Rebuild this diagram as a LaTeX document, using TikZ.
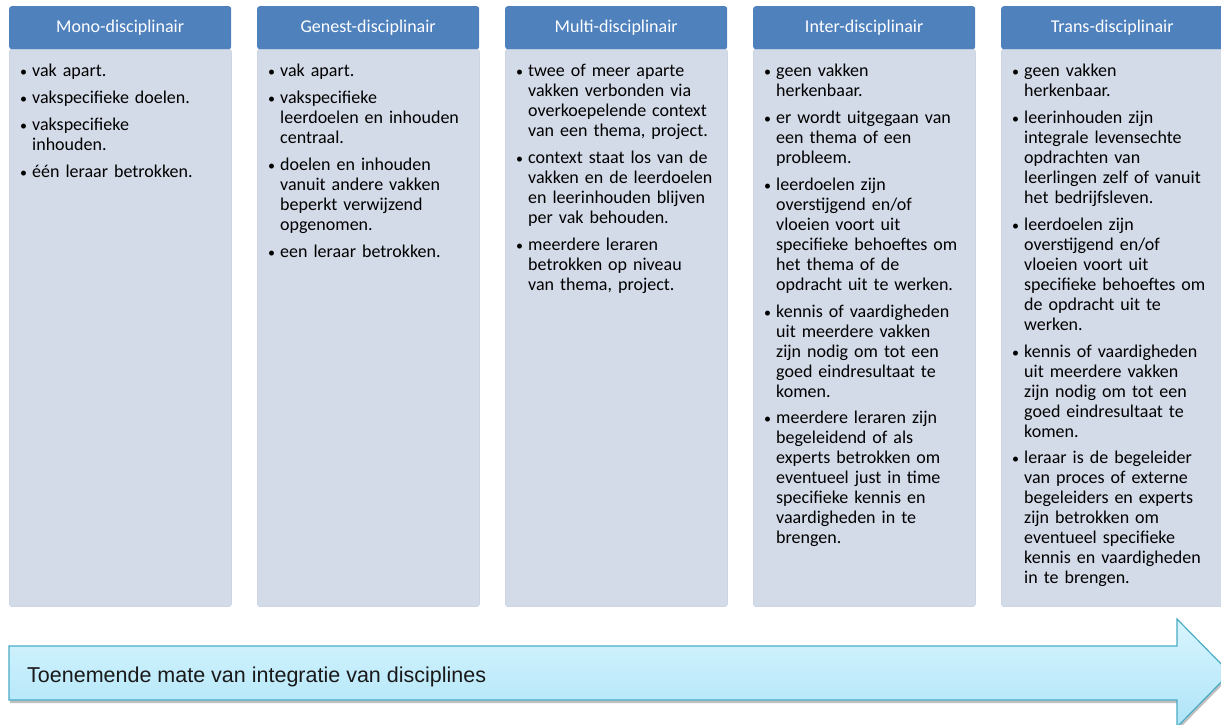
\documentclass[tikz,border=0pt]{standalone}
\usepackage{fontspec}
\setmainfont{Carlito}
\newfontfamily\arialf{Liberation Sans}
\usetikzlibrary{shadows}
\definecolor{hdr}{HTML}{4F81BD}
\definecolor{bodyc}{HTML}{D3DAE8}
\definecolor{bodyedge}{HTML}{CDD4E4}
\definecolor{arrtop}{HTML}{D8F5FE}
\definecolor{arrbot}{HTML}{AEE4F8}
\definecolor{arredge}{HTML}{4BACC6}
\newcommand{\bitem}[1]{\par\noindent\makebox[12pt][l]{\fontsize{14}{14}\selectfont\textbullet}\parbox[t]{192pt}{\raggedright\strut#1\strut}\par}
\newcommand{\mkcol}[4]{%
  \node[bodybox, anchor=north west] (b#1) at (#2,49) {};
  \node[hdrbox, anchor=north west] (h#1) at (#2,6) {#3};
  \node[txtbox, anchor=north west] (t#1) at (#2+11,50) {#4};
}
\begin{document}
\begin{tikzpicture}[x=1pt,y=-1pt,
  hdrbox/.style={fill=hdr, draw=none, rounded corners=2.5pt, minimum width=222pt, minimum height=43pt,
    inner sep=0pt, text=white, font=\fontsize{18}{20}\selectfont},
  bodybox/.style={fill=bodyc, draw=bodyedge, line width=0.8pt, rounded corners=2.5pt, minimum width=222pt, minimum height=557pt, inner sep=0pt},
  txtbox/.style={inner sep=0pt, text width=205pt, align=left, text=black,
    font=\fontsize{18}{20}\selectfont\setlength{\parskip}{6.7pt}\setlength{\lineskip}{0pt}},
  arrowshape/.style={top color=arrtop, bottom color=arrbot, draw=arredge, line width=1.2pt,
    drop shadow={shadow xshift=1pt, shadow yshift=-3pt, opacity=0.25, fill=black}},
]
\clip (0,0) rectangle (1221,724);
\fill[white] (0,0) rectangle (1221,724);
\useasboundingbox (0,0) rectangle (1221,724);

\mkcol{1}{9}{Mono-disciplinair}{%
\bitem{vak apart.}
\bitem{vakspecifieke doelen.}
\bitem{vakspecifieke\\inhouden.}
\bitem{één leraar betrokken.}}

\mkcol{2}{257}{Genest-disciplinair}{%
\bitem{vak apart.}
\bitem{vakspecifieke\\leerdoelen en inhouden\\centraal.}
\bitem{doelen en inhouden\\vanuit andere vakken\\beperkt verwijzend\\opgenomen.}
\bitem{een leraar betrokken.}}

\mkcol{3}{505}{Multi-disciplinair}{%
\bitem{twee of meer aparte\\vakken verbonden via\\overkoepelende context\\van een thema, project.}
\bitem{context staat los van de\\vakken en de leerdoelen\\en leerinhouden blijven\\per vak behouden.}
\bitem{meerdere leraren\\betrokken op niveau\\van thema, project.}}

\mkcol{4}{753}{Inter-disciplinair}{%
\bitem{geen vakken\\herkenbaar.}
\bitem{er wordt uitgegaan van\\een thema of een\\probleem.}
\bitem{leerdoelen zijn\\overstijgend en/of\\vloeien voort uit\\specifieke behoeftes om\\het thema of de\\opdracht uit te werken.}
\bitem{kennis of vaardigheden\\uit meerdere vakken\\zijn nodig om tot een\\goed eindresultaat te\\komen.}
\bitem{meerdere leraren zijn\\begeleidend of als\\experts betrokken om\\eventueel just in time\\specifieke kennis en\\vaardigheden in te\\brengen.}}

\mkcol{5}{1001}{Trans-disciplinair}{%
\bitem{geen vakken\\herkenbaar.}
\bitem{leerinhouden zijn\\integrale levensechte\\opdrachten van\\leerlingen zelf of vanuit\\het bedrijfsleven.}
\bitem{leerdoelen zijn\\overstijgend en/of\\vloeien voort uit\\specifieke behoeftes om\\de opdracht uit te\\werken.}
\bitem{kennis of vaardigheden\\uit meerdere vakken\\zijn nodig om tot een\\goed eindresultaat te\\komen.}
\bitem{leraar is de begeleider\\van proces of externe\\begeleiders en experts\\zijn betrokken om\\eventueel specifieke\\kennis en vaardigheden\\in te brengen.}}

\path[arrowshape] (9,646) -- (1177,646) -- (1177,619) -- (1230,673) -- (1177,727) -- (1177,700) -- (9,700) -- cycle;
\node[anchor=west, inner sep=0pt, font=\arialf\fontsize{21.5}{25}\selectfont, text=black!90] (lbl) at (27,677) {Toenemende mate van integratie van disciplines};
\end{tikzpicture}
\end{document}
